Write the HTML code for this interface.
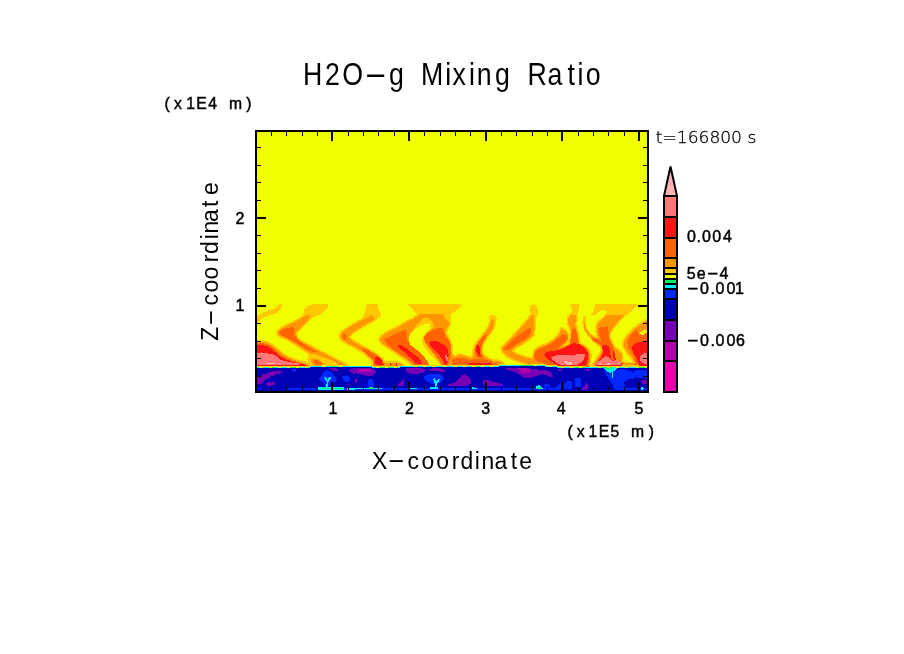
<!DOCTYPE html>
<html lang="en"><head><meta charset="utf-8"><title>H2O-g Mixing Ratio</title>
<style>
html,body{margin:0;padding:0;background:#fff;}
body{width:904px;height:654px;overflow:hidden;position:relative;}
svg{position:absolute;left:0;top:0;display:block;}
text{font-family:"DejaVu Sans Light","DejaVu Sans","Liberation Sans",sans-serif;fill:#000;}
.b{font-family:"Liberation Sans","DejaVu Sans",sans-serif;}
</style></head><body>
<svg width="904" height="654" viewBox="0 0 904 654">
<rect x="0" y="0" width="904" height="654" fill="#fff"/>

<defs><clipPath id="cp"><rect x="256" y="131" width="392" height="261"/></clipPath></defs>
<g clip-path="url(#cp)" shape-rendering="crispEdges">
<rect x="256" y="131" width="392" height="261" fill="#F0FF00"/>
<defs><clipPath id="bc"><polygon points="256.0,392.0 256.0,368.0 310.0,368.0 310.0,367.0 372.0,367.0 372.0,368.0 400.0,368.0 400.0,367.0 499.0,367.0 499.0,366.0 545.0,366.0 545.0,367.0 557.0,367.0 557.0,368.0 648.0,368.0 648.0,392.0" fill="#000"/></clipPath></defs>
<polygon points="257.0,316.3 261.6,313.2 268.2,310.5 274.8,308.3 278.7,304.4 282.0,304.2 281.4,307.7 278.7,311.0 277.6,313.2 271.5,314.9 266.0,316.5 261.6,318.7 258.3,321.5 257.0,322.0" fill="#FFC800"/>
<polygon points="307.8,305.5 313.3,304.2 328.2,304.2 328.5,307.7 324.3,311.0 321.0,314.3 314.4,317.1 310.0,319.3 305.6,318.7 302.3,316.5 303.4,313.2 304.5,308.8" fill="#FFC800"/>
<polygon points="308.8,354.9 314.8,355.4 319.7,357.4 324.7,359.4 330.7,361.9 334.7,363.9 334.7,366.9 310.8,366.9 308.8,363.9 307.3,359.4" fill="#FFC800"/>
<polygon points="365.6,304.2 377.9,304.2 378.5,309.4 381.0,313.8 380.1,317.1 375.7,320.9 371.3,322.0 362.5,317.6 364.7,312.1 366.4,307.7" fill="#FFC800"/>
<polygon points="408.2,304.2 460.7,304.2 460.7,307.7 455.7,311.0 451.3,314.3 450.8,322.0 448.0,328.6 442.5,322.0 431.5,315.4 418.6,314.9 415.3,313.2 412.0,308.8" fill="#FFC800"/>
<polygon points="488.7,316.5 490.9,314.3 494.8,314.9 496.6,318.2 496.4,322.0 494.2,323.1 492.0,318.2 490.4,322.0 488.7,319.8" fill="#FFC800"/>
<polygon points="530.2,306.6 533.0,304.2 536.8,305.5 538.5,311.0 537.4,315.4 535.2,322.0 533.5,314.9 531.3,315.4 530.0,311.0" fill="#FFC800"/>
<polygon points="570.4,304.2 579.7,304.2 579.2,309.9 577.0,314.9 576.4,320.4 574.8,314.3 570.9,314.3 572.0,309.9" fill="#FFC800"/>
<polygon points="559.9,337.4 566.5,336.3 572.0,337.4 572.0,346.2 565.4,348.4 561.0,347.3" fill="#FFC800"/>
<polygon points="594.8,304.1 638.5,304.1 633.2,309.6 627.8,314.5 607.5,314.5 606.9,311.6 602.1,309.9 598.4,312.3 595.2,315.0 591.4,314.5 594.1,310.2" fill="#FFC800"/>
<polygon points="582.3,323.3 583.9,329.9 587.2,335.4 591.6,339.3 596.0,342.0 600.4,345.3 604.8,344.2 600.4,339.8 594.9,336.5 590.0,332.7 586.7,327.7 585.6,322.2 586.5,316.2 582.8,316.2" fill="#FFC800"/>
<polygon points="647.6,328.1 643.3,328.7 639.1,331.0 636.6,334.3 639.6,337.7 644.9,337.3 647.6,336.2" fill="#FFC800"/>
<polygon points="442.0,366.8 439.2,361.6 434.3,355.0 429.9,349.5 426.0,344.0 423.8,338.5 426.0,333.6 430.4,330.3 433.9,326.4 432.6,322.0 428.2,317.8 424.7,317.4 417.0,321.5 411.5,327.5 407.3,333.0 408.4,339.6 415.0,346.2 418.3,348.4 422.7,352.8 427.1,358.3 430.4,363.8 431.5,366.8" fill="#FFC800"/>
<polygon points="257.0,317.6 258.3,318.7 257.8,320.9 257.0,321.5" fill="#FFC800" stroke="#FFC800" stroke-width="3.4" stroke-linejoin="round"/>
<polygon points="310.0,315.4 309.5,318.2 306.2,322.0 301.8,326.4 297.9,330.3 295.5,333.6 297.0,337.5 299.8,340.5 304.8,343.5 310.8,346.5 316.8,349.9 324.7,354.0 332.7,358.0 340.0,361.8 346.0,365.0 348.0,367.5 338.5,367.5 338.5,365.0 336.0,362.3 331.7,360.3 326.7,358.4 321.7,356.9 315.8,354.4 309.3,353.4 306.8,351.4 300.8,347.4 294.8,343.5 287.9,339.5 280.9,336.5 278.0,334.5 277.6,333.0 278.7,330.6 282.0,328.1 286.9,325.5 293.0,322.8 299.0,319.6 304.0,316.3 307.3,314.9" fill="#FFC800" stroke="#FFC800" stroke-width="3.4" stroke-linejoin="round"/>
<polygon points="310.8,358.9 314.8,358.4 319.7,360.4 323.7,363.4 324.7,366.9 313.8,366.9 311.8,362.9" fill="#FFC800" stroke="#FFC800" stroke-width="3.4" stroke-linejoin="round"/>
<polygon points="256.8,342.0 262.0,341.5 267.9,343.0 272.9,346.0 277.9,349.9 281.9,353.9 286.9,356.9 292.8,359.4 298.8,361.4 304.8,362.9 309.3,364.9 310.3,366.9 256.8,366.9" fill="#FFC800" stroke="#FFC800" stroke-width="3.4" stroke-linejoin="round"/>
<polygon points="371.3,314.3 374.6,318.5 372.4,320.9 366.9,323.7 361.4,327.0 355.9,330.3 351.5,333.6 348.8,336.9 351.5,340.2 357.0,343.5 363.6,347.3 370.2,350.8 376.8,354.8 382.3,359.4 384.5,363.3 385.6,366.8 372.4,366.8 373.5,363.8 372.4,360.0 368.0,356.1 362.5,351.7 357.0,348.4 351.5,345.1 346.0,342.4 341.6,339.6 340.0,336.3 341.6,332.5 346.0,329.2 351.5,325.9 357.0,322.6 362.5,319.8 368.0,317.1 370.8,314.9" fill="#FFC800" stroke="#FFC800" stroke-width="3.4" stroke-linejoin="round"/>
<polygon points="383.4,363.6 392.2,362.5 401.0,363.6 404.3,366.8 383.4,366.8" fill="#FFC800" stroke="#FFC800" stroke-width="3.4" stroke-linejoin="round"/>
<polygon points="427.4,313.8 420.3,314.3 414.2,318.2 406.5,322.0 399.9,325.9 392.2,329.7 385.6,333.6 380.7,337.4 380.1,340.2 382.3,343.5 387.8,347.3 394.4,351.7 401.0,356.1 407.6,360.5 412.0,364.4 413.7,366.8 431.5,366.8 430.4,363.8 427.1,358.3 422.7,352.8 418.3,348.4 415.0,346.2 411.5,344.0 408.5,339.6 410.4,333.6 414.8,327.5 418.6,322.6 423.0,318.7 427.4,316.5" fill="#FFC800" stroke="#FFC800" stroke-width="3.4" stroke-linejoin="round"/>
<polygon points="419.4,315.4 420.5,314.5 443.6,314.3 444.7,318.2 450.0,323.7 446.9,328.4 445.3,333.0 448.0,338.0 450.8,343.5 451.3,349.5 451.9,355.0 454.6,357.2 459.0,355.0 463.4,355.6 467.8,357.2 472.2,357.8 473.9,352.8 474.4,347.3 477.7,341.8 482.1,336.3 486.5,330.8 489.8,325.3 490.9,320.4 492.6,318.7 494.2,320.9 493.7,326.4 490.9,331.9 486.5,337.4 483.2,342.9 481.6,348.4 482.1,353.9 485.4,357.2 492.0,360.5 498.6,363.3 503.0,364.9 503.6,366.8 442.0,366.8 439.2,361.6 434.3,355.0 429.9,349.5 426.0,344.0 423.8,338.5 426.0,333.6 430.4,330.3 433.9,326.4 432.6,322.0 428.2,317.8 424.7,317.4 421.6,318.5" fill="#FFC800" stroke="#FFC800" stroke-width="3.4" stroke-linejoin="round"/>
<polygon points="531.9,314.9 534.1,315.4 534.4,322.0 534.1,328.6 533.0,335.2 528.0,339.6 521.4,344.0 514.8,347.9 511.5,351.2 517.0,354.5 524.7,357.2 532.4,358.9 539.0,361.6 539.0,366.8 533.5,366.8 528.0,363.8 520.3,361.6 513.7,359.4 507.1,356.1 502.7,351.7 501.6,347.9 506.0,343.5 511.5,338.0 517.0,331.9 522.5,325.9 528.0,319.8 530.8,316.0" fill="#FFC800" stroke="#FFC800" stroke-width="3.4" stroke-linejoin="round"/>
<polygon points="534.6,366.8 532.4,358.9 534.6,353.9 535.2,350.1 539.0,347.3 544.5,345.1 550.0,342.4 555.5,338.5 559.9,333.0 561.6,328.8 565.4,330.8 568.5,335.2 567.6,339.6 565.4,342.9 562.1,346.2 566.5,348.4 572.0,344.0 579.3,344.0 584.8,346.2 588.6,350.1 590.3,355.0 589.7,360.5 588.6,366.8" fill="#FFC800" stroke="#FFC800" stroke-width="3.4" stroke-linejoin="round"/>
<polygon points="568.2,318.2 570.9,314.9 575.9,314.9 576.4,319.8 575.3,323.7 576.4,328.6 578.1,335.2 579.2,344.0 570.9,345.1 572.0,336.3 570.9,329.7 568.2,323.1" fill="#FFC800" stroke="#FFC800" stroke-width="3.4" stroke-linejoin="round"/>
<polygon points="495.0,360.5 499.4,361.6 503.3,363.8 504.4,366.8 495.0,366.8" fill="#FFC800" stroke="#FFC800" stroke-width="3.4" stroke-linejoin="round"/>
<polygon points="594.5,337.0 600.0,339.8 604.4,344.2 606.4,348.2 603.2,348.7 600.4,345.8 596.0,342.5 593.0,339.8" fill="#FFC800" stroke="#FFC800" stroke-width="3.4" stroke-linejoin="round"/>
<polygon points="607.5,314.5 624.6,314.5 618.2,321.4 612.8,327.8 609.6,333.2 609.1,336.4 611.2,341.8 613.9,347.1 618.2,350.3 621.4,353.5 621.9,357.8 621.4,361.6 625.7,363.2 634.2,363.2 635.3,365.0 593.0,365.0 595.7,361.0 599.4,355.7 602.1,350.3 601.0,346.0 598.9,340.7 597.6,335.3 596.8,328.9 597.6,323.6 602.1,319.3" fill="#FFC800" stroke="#FFC800" stroke-width="3.4" stroke-linejoin="round"/>
<polygon points="647.6,320.3 639.6,324.6 633.2,330.0 627.8,335.3 624.1,340.7 623.5,346.0 626.7,351.4 631.0,356.7 634.2,361.0 635.3,365.0 647.6,365.0" fill="#FFC800" stroke="#FFC800" stroke-width="3.4" stroke-linejoin="round"/>
<polygon points="257.0,317.6 258.3,318.7 257.8,320.9 257.0,321.5" fill="#FF9600"/>
<polygon points="310.0,315.4 309.5,318.2 306.2,322.0 301.8,326.4 297.9,330.3 295.5,333.6 297.0,337.5 299.8,340.5 304.8,343.5 310.8,346.5 316.8,349.9 324.7,354.0 332.7,358.0 340.0,361.8 346.0,365.0 348.0,367.5 338.5,367.5 338.5,365.0 336.0,362.3 331.7,360.3 326.7,358.4 321.7,356.9 315.8,354.4 309.3,353.4 306.8,351.4 300.8,347.4 294.8,343.5 287.9,339.5 280.9,336.5 278.0,334.5 277.6,333.0 278.7,330.6 282.0,328.1 286.9,325.5 293.0,322.8 299.0,319.6 304.0,316.3 307.3,314.9" fill="#FF9600"/>
<polygon points="310.8,358.9 314.8,358.4 319.7,360.4 323.7,363.4 324.7,366.9 313.8,366.9 311.8,362.9" fill="#FF9600"/>
<polygon points="256.8,342.0 262.0,341.5 267.9,343.0 272.9,346.0 277.9,349.9 281.9,353.9 286.9,356.9 292.8,359.4 298.8,361.4 304.8,362.9 309.3,364.9 310.3,366.9 256.8,366.9" fill="#FF9600"/>
<polygon points="371.3,314.3 374.6,318.5 372.4,320.9 366.9,323.7 361.4,327.0 355.9,330.3 351.5,333.6 348.8,336.9 351.5,340.2 357.0,343.5 363.6,347.3 370.2,350.8 376.8,354.8 382.3,359.4 384.5,363.3 385.6,366.8 372.4,366.8 373.5,363.8 372.4,360.0 368.0,356.1 362.5,351.7 357.0,348.4 351.5,345.1 346.0,342.4 341.6,339.6 340.0,336.3 341.6,332.5 346.0,329.2 351.5,325.9 357.0,322.6 362.5,319.8 368.0,317.1 370.8,314.9" fill="#FF9600"/>
<polygon points="383.4,363.6 392.2,362.5 401.0,363.6 404.3,366.8 383.4,366.8" fill="#FF9600"/>
<polygon points="427.4,313.8 420.3,314.3 414.2,318.2 406.5,322.0 399.9,325.9 392.2,329.7 385.6,333.6 380.7,337.4 380.1,340.2 382.3,343.5 387.8,347.3 394.4,351.7 401.0,356.1 407.6,360.5 412.0,364.4 413.7,366.8 431.5,366.8 430.4,363.8 427.1,358.3 422.7,352.8 418.3,348.4 415.0,346.2 411.5,344.0 408.5,339.6 410.4,333.6 414.8,327.5 418.6,322.6 423.0,318.7 427.4,316.5" fill="#FF9600"/>
<polygon points="419.4,315.4 420.5,314.5 443.6,314.3 444.7,318.2 450.0,323.7 446.9,328.4 445.3,333.0 448.0,338.0 450.8,343.5 451.3,349.5 451.9,355.0 454.6,357.2 459.0,355.0 463.4,355.6 467.8,357.2 472.2,357.8 473.9,352.8 474.4,347.3 477.7,341.8 482.1,336.3 486.5,330.8 489.8,325.3 490.9,320.4 492.6,318.7 494.2,320.9 493.7,326.4 490.9,331.9 486.5,337.4 483.2,342.9 481.6,348.4 482.1,353.9 485.4,357.2 492.0,360.5 498.6,363.3 503.0,364.9 503.6,366.8 442.0,366.8 439.2,361.6 434.3,355.0 429.9,349.5 426.0,344.0 423.8,338.5 426.0,333.6 430.4,330.3 433.9,326.4 432.6,322.0 428.2,317.8 424.7,317.4 421.6,318.5" fill="#FF9600"/>
<polygon points="531.9,314.9 534.1,315.4 534.4,322.0 534.1,328.6 533.0,335.2 528.0,339.6 521.4,344.0 514.8,347.9 511.5,351.2 517.0,354.5 524.7,357.2 532.4,358.9 539.0,361.6 539.0,366.8 533.5,366.8 528.0,363.8 520.3,361.6 513.7,359.4 507.1,356.1 502.7,351.7 501.6,347.9 506.0,343.5 511.5,338.0 517.0,331.9 522.5,325.9 528.0,319.8 530.8,316.0" fill="#FF9600"/>
<polygon points="534.6,366.8 532.4,358.9 534.6,353.9 535.2,350.1 539.0,347.3 544.5,345.1 550.0,342.4 555.5,338.5 559.9,333.0 561.6,328.8 565.4,330.8 568.5,335.2 567.6,339.6 565.4,342.9 562.1,346.2 566.5,348.4 572.0,344.0 579.3,344.0 584.8,346.2 588.6,350.1 590.3,355.0 589.7,360.5 588.6,366.8" fill="#FF9600"/>
<polygon points="568.2,318.2 570.9,314.9 575.9,314.9 576.4,319.8 575.3,323.7 576.4,328.6 578.1,335.2 579.2,344.0 570.9,345.1 572.0,336.3 570.9,329.7 568.2,323.1" fill="#FF9600"/>
<polygon points="495.0,360.5 499.4,361.6 503.3,363.8 504.4,366.8 495.0,366.8" fill="#FF9600"/>
<polygon points="594.5,337.0 600.0,339.8 604.4,344.2 606.4,348.2 603.2,348.7 600.4,345.8 596.0,342.5 593.0,339.8" fill="#FF9600"/>
<polygon points="607.5,314.5 624.6,314.5 618.2,321.4 612.8,327.8 609.6,333.2 609.1,336.4 611.2,341.8 613.9,347.1 618.2,350.3 621.4,353.5 621.9,357.8 621.4,361.6 625.7,363.2 634.2,363.2 635.3,365.0 593.0,365.0 595.7,361.0 599.4,355.7 602.1,350.3 601.0,346.0 598.9,340.7 597.6,335.3 596.8,328.9 597.6,323.6 602.1,319.3" fill="#FF9600"/>
<polygon points="647.6,320.3 639.6,324.6 633.2,330.0 627.8,335.3 624.1,340.7 623.5,346.0 626.7,351.4 631.0,356.7 634.2,361.0 635.3,365.0 647.6,365.0" fill="#FF9600"/>
<polygon points="583.3,323.0 584.6,329.0 587.9,334.5 592.6,338.5 597.7,341.5 598.7,340.3 593.8,337.3 589.3,333.5 586.0,328.6 584.7,322.8" fill="#FF9600"/>
<polygon points="647.6,329.6 643.9,330.2 640.1,332.3 638.5,334.3 640.9,336.2 644.9,335.8 647.6,334.7" fill="#F0FF00"/>
<polygon points="421.4,325.3 426.9,323.3 430.2,324.8 429.6,328.6 425.8,333.0 422.5,337.4 421.9,341.8 423.6,346.2 428.0,351.7 432.4,357.2 437.9,362.7 442.3,366.8 431.3,366.8 428.0,362.7 422.5,357.2 415.9,350.6 410.4,345.1 408.7,339.6 409.8,335.2 413.7,330.8 418.1,327.5" fill="#F0FF00"/>
<polygon points="279.0,333.0 281.4,330.3 286.9,328.1 293.0,327.0 294.4,330.3 294.1,334.1 297.0,339.0 301.0,342.0 306.0,345.5 311.0,348.5 316.0,351.0 317.5,352.5 313.0,352.0 308.0,350.0 303.0,347.0 297.0,343.5 291.0,340.0 285.0,337.0 281.0,335.0" fill="#FF6400"/>
<polygon points="313.3,360.4 316.8,359.9 320.7,362.4 322.7,364.9 318.7,365.4 314.8,363.9" fill="#FF6400"/>
<polygon points="256.8,343.5 262.0,343.0 267.5,344.5 272.4,347.5 276.9,351.4 280.9,354.9 285.9,357.9 291.9,360.4 297.8,362.1 303.8,363.7 307.8,365.4 308.8,366.9 256.8,366.9" fill="#FF6400"/>
<polygon points="343.6,334.1 346.0,333.9 346.0,339.6 343.6,339.8 342.9,336.9" fill="#FF6400"/>
<polygon points="360.9,347.9 366.9,349.5 373.5,353.4 379.0,356.7 382.9,360.5 384.5,366.8 373.0,366.8 374.1,362.7 372.4,359.4 368.0,355.6 363.1,351.2" fill="#FF6400"/>
<polygon points="384.0,339.6 392.2,335.2 401.0,331.4 405.4,329.9 407.1,335.2 407.6,340.7 410.9,345.1 415.0,348.4 419.4,351.7 423.8,356.1 427.6,361.6 429.3,366.8 416.4,366.8 412.0,362.7 406.5,358.3 399.9,353.9 393.3,349.5 387.8,345.1" fill="#FF6400"/>
<polygon points="423.8,337.4 427.1,333.0 432.6,330.3 438.7,327.5 442.0,327.5 444.2,331.9 445.3,336.3 449.1,340.7 450.8,346.2 450.8,352.8 449.7,359.4 448.0,364.9 446.9,366.8 443.1,366.8 440.9,361.6 437.0,357.2 432.6,351.7 428.2,346.2 424.9,341.8" fill="#FF6400"/>
<polygon points="486.7,335.4 486.0,338.0 482.7,343.5 481.0,348.4 481.0,353.9 483.8,357.2 481.0,358.3 476.6,357.2 475.0,352.8 475.3,347.9 478.3,342.4 482.3,337.4 484.5,335.0" fill="#FF6400"/>
<polygon points="452.4,359.4 456.8,358.3 463.4,358.3 470.0,360.0 476.6,358.9 483.2,358.9 489.8,361.1 496.4,363.8 501.9,366.0 501.9,366.8 451.3,366.8" fill="#FF6400"/>
<polygon points="504.9,347.3 509.3,342.9 514.8,338.0 521.4,333.0 526.9,329.2 530.8,328.1 531.3,331.9 529.1,336.3 523.6,340.2 517.0,344.0 511.5,348.4 507.1,350.6 504.4,349.5" fill="#FF6400"/>
<polygon points="534.6,351.7 539.0,349.0 544.5,346.8 550.0,344.0 555.5,340.2 559.9,336.3 563.2,334.3 567.1,335.2 567.6,338.5 565.4,341.8 559.9,346.2 556.6,349.5 561.0,348.4 569.8,344.0 570.9,336.3 572.0,329.7 575.3,328.1 577.3,335.2 578.1,342.9 584.1,346.8 587.7,350.6 589.2,355.0 588.7,360.5 587.6,366.8 556.6,366.8 547.8,364.9 541.2,362.7 535.7,360.5 534.1,356.1" fill="#FF6400"/>
<polygon points="495.0,363.3 499.4,363.8 501.6,366.8 495.0,366.8" fill="#FF6400"/>
<polygon points="590.3,337.7 594.6,338.0 598.9,339.8 602.1,342.3 604.3,346.0 601.6,346.0 597.8,343.4 593.6,341.2" fill="#FF6400"/>
<polygon points="598.4,327.8 608.0,326.2 608.5,332.1 609.1,337.5 611.2,342.8 613.4,348.2 614.4,353.5 615.5,360.0 616.0,365.0 594.6,365.0 597.3,361.0 600.5,356.7 602.7,351.4 602.1,346.0 601.0,339.6 598.9,334.3" fill="#FF6400"/>
<polygon points="647.6,332.1 642.8,335.3 638.5,333.2 636.4,328.9 633.2,332.1 628.9,337.5 627.3,342.8 628.4,348.2 632.1,353.5 634.2,357.8 635.3,365.0 647.6,365.0" fill="#FF6400"/>
<polygon points="256.8,345.5 262.0,345.0 267.0,346.2 271.4,348.9 275.4,352.4 279.4,355.9 284.4,358.9 290.4,361.1 296.8,362.9 302.8,364.1 306.3,365.4 306.8,366.9 256.8,366.9" fill="#FF1414"/>
<polygon points="375.2,357.2 379.0,357.2 381.8,360.5 382.9,364.9 375.2,364.4 374.6,360.5" fill="#FF1414"/>
<polygon points="389.5,362.7 391.1,362.7 391.1,367.1 389.5,367.1" fill="#FF1414"/>
<polygon points="395.5,362.7 397.2,362.7 397.2,367.1 395.5,367.1" fill="#FF1414"/>
<polygon points="398.3,345.1 401.0,344.6 406.5,348.4 412.0,352.8 417.5,356.7 421.0,360.5 422.1,363.8 419.4,364.4 415.0,362.7 412.0,358.9 406.5,353.9 401.0,349.5 398.3,346.8" fill="#FF1414"/>
<polygon points="429.3,342.4 432.6,340.7 437.0,340.9 441.4,343.5 445.8,346.2 448.0,349.5 448.6,355.0 448.0,360.5 446.4,364.9 444.2,364.4 442.5,359.4 439.2,355.0 434.8,350.6 431.0,346.8" fill="#FF1414"/>
<polygon points="476.4,345.7 478.8,344.6 479.9,348.4 479.9,352.8 481.0,356.1 478.8,356.3 476.6,352.8 476.1,349.0" fill="#FF1414"/>
<polygon points="467.8,362.9 476.6,362.5 485.4,362.9 490.9,363.3 492.0,364.9 485.4,366.0 476.6,366.0 468.9,365.8" fill="#FF1414"/>
<polygon points="544.0,354.5 546.7,351.7 552.2,351.2 557.7,350.1 563.2,348.4 569.8,345.1 574.2,343.1 579.3,344.0 583.7,347.3 587.5,351.7 588.6,357.2 587.0,361.6 585.9,367.3 560.5,367.3 556.6,364.9 551.1,361.6 546.7,358.3" fill="#FF1414"/>
<polygon points="601.6,346.0 605.3,345.0 609.1,346.0 609.8,350.3 610.7,355.7 611.8,360.0 617.1,361.2 621.4,363.0 622.0,365.5 594.6,365.5 596.8,363.2 598.9,360.0 602.1,355.7 603.2,351.4" fill="#FF1414"/>
<polygon points="613.4,350.3 615.0,353.5 615.8,360.0 613.9,360.0 612.8,354.6" fill="#FF1414"/>
<polygon points="647.6,341.8 639.6,342.3 635.3,342.8 631.6,347.1 633.2,352.5 636.4,357.8 638.5,363.2 639.1,365.5 647.6,365.5" fill="#FF1414"/>
<polygon points="256.8,353.4 261.0,352.4 267.0,353.4 272.9,354.4 277.4,356.9 280.9,359.9 286.9,361.4 293.8,362.9 299.8,363.4 301.3,364.1 298.8,364.6 256.8,364.6" fill="#FF7878"/>
<polygon points="444.7,354.5 446.4,354.5 447.5,357.2 447.8,360.5 446.4,360.5 445.3,357.8" fill="#FF7878"/>
<polygon points="550.6,357.2 554.4,356.1 557.7,354.5 563.2,355.0 572.0,355.6 576.4,354.5 580.4,353.9 585.3,354.5 583.7,359.4 580.4,362.7 577.5,364.9 561.0,364.9 557.7,363.6 553.3,360.5" fill="#FF7878"/>
<polygon points="595.2,364.8 598.9,361.0 603.2,357.8 606.4,355.7 609.6,358.4 612.8,361.0 617.1,360.0 620.3,361.6 621.4,364.8" fill="#FF7878"/>
<polygon points="647.6,353.0 642.8,353.5 639.6,356.7 640.7,362.1 644.9,364.2 647.6,364.2" fill="#FF7878"/>
<polygon points="267.0,363.2 274.9,363.2 274.9,364.1 267.0,364.1" fill="#FFB4B4"/>
<polygon points="278.9,363.2 280.1,363.2 280.1,364.1 278.9,364.1" fill="#FFB4B4"/>
<polygon points="564.3,361.1 566.0,360.5 567.6,362.2 570.9,362.2 572.0,363.3 570.9,364.7 569.8,364.9 566.5,364.9 565.4,363.8" fill="#FFB4B4"/>
<polygon points="598.9,364.0 600.5,363.4 601.6,364.8 599.4,365.0" fill="#FFB4B4"/>
<polygon points="605.3,364.2 609.6,363.2 611.8,364.8 605.9,365.0" fill="#FFB4B4"/>
<polygon points="618.2,363.4 620.1,362.6 620.3,364.2 618.7,364.8" fill="#FFB4B4"/>
<polygon points="566.1,362.2 571.6,362.2 571.6,364.9 566.1,364.9" fill="#FFB4B4"/>
<g clip-path="url(#bc)">
<polygon points="256.0,392.0 256.0,368.0 310.0,368.0 310.0,367.0 372.0,367.0 372.0,368.0 400.0,368.0 400.0,367.0 499.0,367.0 499.0,366.0 545.0,366.0 545.0,367.0 557.0,367.0 557.0,368.0 648.0,368.0 648.0,392.0" fill="#0000B4"/>
<polygon points="257.2,376.9 261.6,375.3 268.3,372.5 274.9,370.8 281.5,370.8 282.1,373.1 277.1,374.2 271.6,376.4 266.1,379.7 262.7,383.0 260.5,384.7 257.2,383.6" fill="#7800B4"/>
<polygon points="265.5,383.0 270.5,381.9 274.4,381.4 275.5,384.1 271.6,385.8 267.2,385.8 265.5,384.7" fill="#7800B4"/>
<polygon points="328.0,368.1 334.6,368.1 339.1,369.7 336.9,371.4 332.4,370.3" fill="#7800B4"/>
<polygon points="347.9,369.7 355.0,368.1 355.0,374.2 351.2,373.1" fill="#7800B4"/>
<polygon points="355.0,368.6 361.6,368.1 369.4,368.1 374.9,369.7 376.0,372.5 373.8,375.3 368.3,376.4 361.6,374.7 355.0,373.1" fill="#7800B4"/>
<polygon points="405.3,368.6 412.5,367.5 421.4,368.1 425.8,369.7 423.6,372.5 416.9,374.2 410.3,373.6 405.9,371.4" fill="#7800B4"/>
<polygon points="428.0,369.2 434.6,368.1 442.4,368.6 446.8,371.4 443.5,372.5 436.9,370.8 431.3,371.4" fill="#7800B4"/>
<polygon points="397.0,385.8 401.5,380.8 403.7,379.1 404.2,385.8" fill="#7800B4"/>
<polygon points="447.9,384.7 452.3,383.0 455.0,382.8 455.0,385.8 447.9,385.8" fill="#7800B4"/>
<polygon points="355.0,378.6 357.2,379.7 356.7,383.0 355.0,383.0" fill="#7800B4"/>
<polygon points="455.0,383.0 458.3,379.7 461.6,375.3 465.0,374.2 469.4,377.5 471.6,380.8 470.5,384.1 466.1,385.8 459.4,386.3 455.0,385.8" fill="#7800B4"/>
<polygon points="482.7,379.7 488.2,380.3 494.8,381.9 501.5,384.1 503.7,385.8 483.8,385.8" fill="#7800B4"/>
<polygon points="504.8,368.1 516.9,367.5 525.8,367.5 532.4,369.2 541.3,369.7 549.0,370.8 552.3,374.2 553.5,377.5 549.0,376.4 543.5,374.2 539.1,375.3 532.4,377.5 525.8,378.6 520.3,375.3 514.7,372.0 508.1,370.3" fill="#7800B4"/>
<polygon points="581.5,389.9 584.9,385.2 587.1,380.8 588.2,389.9" fill="#7800B4"/>
<polygon points="584.9,368.6 590.4,368.6 590.4,370.8 584.9,370.8" fill="#7800B4"/>
<polygon points="558.3,368.9 561.6,368.9 561.6,370.8 558.3,370.8" fill="#7800B4"/>
<polygon points="640.2,380.8 646.8,379.7 646.8,384.1 642.4,383.6" fill="#7800B4"/>
<polygon points="358.3,369.2 365.0,368.6 371.6,369.5 370.5,371.7 363.8,372.2 358.3,371.4" fill="#B400AA"/>
<polygon points="517.5,368.4 525.8,368.1 531.3,370.3 530.2,373.1 523.6,373.1 519.2,370.8" fill="#B400AA"/>
<polygon points="257.2,388.0 262.2,388.0 262.2,389.1 257.2,389.1" fill="#0028FF"/>
<polygon points="287.1,387.9 316.9,387.7 355.0,387.7 355.0,389.9 287.1,389.9" fill="#0028FF"/>
<polygon points="321.4,376.4 323.6,372.0 326.9,369.7 331.3,372.0 334.6,376.4 336.9,378.6 334.6,381.9 331.3,384.1 328.0,387.4 325.8,387.4 323.6,383.0 320.3,380.8 318.6,378.6" fill="#0028FF"/>
<polygon points="342.4,376.4 346.8,375.3 350.1,377.5 349.6,381.4 345.7,382.5 342.9,379.7" fill="#0028FF"/>
<polygon points="290.4,368.9 297.0,368.9 293.7,372.5" fill="#0028FF"/>
<polygon points="424.1,376.4 428.0,374.2 434.6,373.6 441.3,374.7 444.0,377.5 442.4,381.4 438.0,384.1 432.4,384.1 426.9,381.4 424.1,378.6" fill="#0028FF"/>
<polygon points="355.0,387.7 455.0,387.7 455.0,389.9 355.0,389.9" fill="#0028FF"/>
<polygon points="368.3,379.7 373.3,378.6 373.8,387.4 368.3,387.4" fill="#0028FF"/>
<polygon points="455.0,387.8 555.0,387.8 555.0,389.9 455.0,389.9" fill="#0028FF"/>
<polygon points="543.5,384.1 550.1,384.7 550.1,388.5 543.5,388.5" fill="#0028FF"/>
<polygon points="603.7,369.7 608.1,373.1 612.5,372.0 616.9,369.7 623.6,369.2 630.2,370.8 634.6,373.1 636.9,376.4 632.4,378.6 626.9,379.7 623.6,383.0 625.8,387.4 632.4,389.9 614.7,389.9 612.5,384.1 609.2,379.7 605.9,375.3" fill="#0028FF"/>
<polygon points="555.0,389.9 555.0,387.4 561.1,383.0 561.6,389.9" fill="#0028FF"/>
<polygon points="563.8,384.1 568.3,380.8 572.7,381.9 571.6,388.5 563.8,388.5" fill="#0028FF"/>
<polygon points="574.9,378.6 580.4,377.5 581.5,387.4 575.5,386.9" fill="#0028FF"/>
<polygon points="625.8,388.5 639.1,387.4 646.8,388.0 646.8,389.9 625.8,389.9" fill="#0028FF"/>
<polygon points="632.4,370.8 646.8,369.7 646.8,378.6 636.9,377.5" fill="#0028FF"/>
<polygon points="318.1,387.4 343.5,387.4 343.5,389.7 318.1,389.7" fill="#00F0FF"/>
<polygon points="346.8,387.7 355.0,387.7 355.0,389.7 346.8,389.7" fill="#00F0FF"/>
<polygon points="326.3,388.0 326.7,381.4 323.8,376.9 325.2,376.2 327.5,379.7 330.0,376.6 331.3,377.5 328.5,381.7 328.2,388.0" fill="#00F0FF"/>
<polygon points="355.0,387.9 381.5,387.9 381.5,389.2 355.0,389.2" fill="#00F0FF"/>
<polygon points="410.3,388.0 416.9,388.0 416.9,389.1 410.3,389.1" fill="#00F0FF"/>
<polygon points="430.2,387.4 438.0,387.4 438.0,388.5 430.2,388.5" fill="#00F0FF"/>
<polygon points="434.9,388.0 434.9,383.6 433.0,378.6 434.6,378.4 436.3,381.4 438.5,378.6 440.0,379.7 436.9,383.6 436.0,388.0" fill="#00F0FF"/>
<polygon points="471.6,387.4 477.1,387.7 477.7,389.1 471.6,389.1" fill="#00F0FF"/>
<polygon points="535.8,386.9 539.1,384.7 542.4,388.0 543.5,389.1 535.8,389.1" fill="#00F0FF"/>
<polygon points="603.7,368.1 616.9,368.1 614.7,370.8 610.3,373.1 607.0,371.4" fill="#00F0FF"/>
<polygon points="612.0,370.8 613.1,370.8 613.1,377.5 612.0,377.5" fill="#00F0FF"/>
<polygon points="641.3,386.9 644.6,388.0 642.4,390.2 640.7,390.2" fill="#00F0FF"/>
<polygon points="321.4,388.3 343.5,388.3 343.5,389.1 321.4,389.1" fill="#00F064"/>
<polygon points="326.7,383.6 328.0,383.6 328.0,388.5 326.7,388.5" fill="#00F064"/>
<polygon points="369.4,386.9 372.7,386.9 372.7,388.5 369.4,388.5" fill="#00F064"/>
<polygon points="536.9,387.7 540.7,387.4 540.7,388.8 536.9,388.8" fill="#00F064"/>
<polygon points="604.8,368.1 610.3,368.1 609.2,369.7 605.9,369.5" fill="#00F064"/>
</g>
<rect x="256" y="366" width="54" height="1" fill="#FFDC00"/>
<rect x="256" y="367" width="54" height="1" fill="#00F0FF"/>
<rect x="268" y="367" width="7" height="1" fill="#00F064"/>
<rect x="290" y="367" width="10" height="1" fill="#00F064"/>
<rect x="260" y="367" width="3" height="1" fill="#F0FF00"/>
<rect x="269" y="367" width="3" height="1" fill="#F0FF00"/>
<rect x="278" y="367" width="3" height="1" fill="#F0FF00"/>
<rect x="287" y="367" width="3" height="1" fill="#F0FF00"/>
<rect x="296" y="367" width="3" height="1" fill="#F0FF00"/>
<rect x="305" y="367" width="3" height="1" fill="#F0FF00"/>
<rect x="310" y="365" width="2" height="1" fill="#FFDC00"/>
<rect x="318" y="365" width="9" height="1" fill="#FFDC00"/>
<rect x="335" y="365" width="10" height="1" fill="#FFDC00"/>
<rect x="310" y="366" width="62" height="1" fill="#00F0FF"/>
<rect x="330" y="366" width="8" height="1" fill="#00F064"/>
<rect x="322" y="366" width="3" height="1" fill="#F0FF00"/>
<rect x="339" y="366" width="3" height="1" fill="#F0FF00"/>
<rect x="372" y="366" width="28" height="1" fill="#FFDC00"/>
<rect x="372" y="367" width="28" height="1" fill="#00F0FF"/>
<rect x="380" y="367" width="12" height="1" fill="#00F064"/>
<rect x="376" y="367" width="3" height="1" fill="#F0FF00"/>
<rect x="385" y="367" width="3" height="1" fill="#F0FF00"/>
<rect x="394" y="367" width="3" height="1" fill="#F0FF00"/>
<rect x="410" y="365" width="27" height="1" fill="#FFDC00"/>
<rect x="439" y="365" width="9" height="1" fill="#FFDC00"/>
<rect x="450" y="365" width="49" height="1" fill="#FFDC00"/>
<rect x="400" y="366" width="99" height="1" fill="#00F0FF"/>
<rect x="470" y="366" width="10" height="1" fill="#00F064"/>
<rect x="414" y="366" width="3" height="1" fill="#F0FF00"/>
<rect x="423" y="366" width="3" height="1" fill="#F0FF00"/>
<rect x="432" y="366" width="3" height="1" fill="#F0FF00"/>
<rect x="443" y="366" width="3" height="1" fill="#F0FF00"/>
<rect x="454" y="366" width="3" height="1" fill="#F0FF00"/>
<rect x="463" y="366" width="3" height="1" fill="#F0FF00"/>
<rect x="472" y="366" width="3" height="1" fill="#F0FF00"/>
<rect x="481" y="366" width="3" height="1" fill="#F0FF00"/>
<rect x="490" y="366" width="3" height="1" fill="#F0FF00"/>
<rect x="499" y="364" width="5" height="1" fill="#FFDC00"/>
<rect x="530" y="364" width="15" height="1" fill="#FFDC00"/>
<rect x="499" y="365" width="46" height="1" fill="#00F0FF"/>
<rect x="520" y="365" width="14" height="1" fill="#00F064"/>
<rect x="534" y="365" width="3" height="1" fill="#F0FF00"/>
<rect x="545" y="365" width="12" height="1" fill="#FFDC00"/>
<rect x="545" y="366" width="12" height="1" fill="#00F0FF"/>
<rect x="549" y="366" width="3" height="1" fill="#F0FF00"/>
<rect x="557" y="366" width="29" height="1" fill="#FFDC00"/>
<rect x="594" y="366" width="35" height="1" fill="#FFDC00"/>
<rect x="632" y="366" width="16" height="1" fill="#FFDC00"/>
<rect x="557" y="367" width="91" height="1" fill="#00F0FF"/>
<rect x="575" y="367" width="10" height="1" fill="#00F064"/>
<rect x="603" y="367" width="9" height="1" fill="#00F064"/>
<rect x="636" y="367" width="10" height="1" fill="#00F064"/>
<rect x="561" y="367" width="3" height="1" fill="#F0FF00"/>
<rect x="570" y="367" width="3" height="1" fill="#F0FF00"/>
<rect x="579" y="367" width="3" height="1" fill="#F0FF00"/>
<rect x="598" y="367" width="3" height="1" fill="#F0FF00"/>
<rect x="607" y="367" width="3" height="1" fill="#F0FF00"/>
<rect x="616" y="367" width="3" height="1" fill="#F0FF00"/>
<rect x="625" y="367" width="3" height="1" fill="#F0FF00"/>
<rect x="636" y="367" width="3" height="1" fill="#F0FF00"/>
<rect x="645" y="367" width="3" height="1" fill="#F0FF00"/>
</g>
<g shape-rendering="crispEdges" fill="#000">
<rect x="255" y="130" width="394" height="2"/><rect x="255" y="391" width="394" height="2"/>
<rect x="255" y="130" width="2" height="263"/><rect x="647" y="130" width="2" height="263"/>
<rect x="271" y="387" width="1" height="4"/><rect x="271" y="132" width="1" height="4"/>
<rect x="286" y="387" width="1" height="4"/><rect x="286" y="132" width="1" height="4"/>
<rect x="302" y="387" width="1" height="4"/><rect x="302" y="132" width="1" height="4"/>
<rect x="317" y="387" width="1" height="4"/><rect x="317" y="132" width="1" height="4"/>
<rect x="331" y="382" width="2" height="9"/><rect x="331" y="132" width="2" height="9"/>
<rect x="348" y="387" width="1" height="4"/><rect x="348" y="132" width="1" height="4"/>
<rect x="363" y="387" width="1" height="4"/><rect x="363" y="132" width="1" height="4"/>
<rect x="378" y="387" width="1" height="4"/><rect x="378" y="132" width="1" height="4"/>
<rect x="394" y="387" width="1" height="4"/><rect x="394" y="132" width="1" height="4"/>
<rect x="408" y="382" width="2" height="9"/><rect x="408" y="132" width="2" height="9"/>
<rect x="424" y="387" width="1" height="4"/><rect x="424" y="132" width="1" height="4"/>
<rect x="440" y="387" width="1" height="4"/><rect x="440" y="132" width="1" height="4"/>
<rect x="455" y="387" width="1" height="4"/><rect x="455" y="132" width="1" height="4"/>
<rect x="470" y="387" width="1" height="4"/><rect x="470" y="132" width="1" height="4"/>
<rect x="485" y="382" width="2" height="9"/><rect x="485" y="132" width="2" height="9"/>
<rect x="501" y="387" width="1" height="4"/><rect x="501" y="132" width="1" height="4"/>
<rect x="516" y="387" width="1" height="4"/><rect x="516" y="132" width="1" height="4"/>
<rect x="532" y="387" width="1" height="4"/><rect x="532" y="132" width="1" height="4"/>
<rect x="547" y="387" width="1" height="4"/><rect x="547" y="132" width="1" height="4"/>
<rect x="561" y="382" width="2" height="9"/><rect x="561" y="132" width="2" height="9"/>
<rect x="578" y="387" width="1" height="4"/><rect x="578" y="132" width="1" height="4"/>
<rect x="593" y="387" width="1" height="4"/><rect x="593" y="132" width="1" height="4"/>
<rect x="608" y="387" width="1" height="4"/><rect x="608" y="132" width="1" height="4"/>
<rect x="624" y="387" width="1" height="4"/><rect x="624" y="132" width="1" height="4"/>
<rect x="638" y="382" width="2" height="9"/><rect x="638" y="132" width="2" height="9"/>
<rect x="257" y="376" width="4" height="1"/><rect x="643" y="376" width="4" height="1"/>
<rect x="257" y="358" width="4" height="1"/><rect x="643" y="358" width="4" height="1"/>
<rect x="257" y="341" width="4" height="1"/><rect x="643" y="341" width="4" height="1"/>
<rect x="257" y="323" width="4" height="1"/><rect x="643" y="323" width="4" height="1"/>
<rect x="257" y="305" width="9" height="2"/><rect x="638" y="305" width="9" height="2"/>
<rect x="257" y="288" width="4" height="1"/><rect x="643" y="288" width="4" height="1"/>
<rect x="257" y="270" width="4" height="1"/><rect x="643" y="270" width="4" height="1"/>
<rect x="257" y="253" width="4" height="1"/><rect x="643" y="253" width="4" height="1"/>
<rect x="257" y="235" width="4" height="1"/><rect x="643" y="235" width="4" height="1"/>
<rect x="257" y="217" width="9" height="2"/><rect x="638" y="217" width="9" height="2"/>
<rect x="257" y="200" width="4" height="1"/><rect x="643" y="200" width="4" height="1"/>
<rect x="257" y="182" width="4" height="1"/><rect x="643" y="182" width="4" height="1"/>
<rect x="257" y="165" width="4" height="1"/><rect x="643" y="165" width="4" height="1"/>
<rect x="257" y="147" width="4" height="1"/><rect x="643" y="147" width="4" height="1"/>
</g>
<g shape-rendering="crispEdges">
<rect x="663" y="195" width="15" height="198" fill="#000"/>
<rect x="665" y="197" width="11" height="19" fill="#FF7878"/>
<rect x="665" y="218" width="11" height="19" fill="#FF1414"/>
<rect x="665" y="239" width="11" height="18" fill="#FF6400"/>
<rect x="665" y="259" width="11" height="8" fill="#FF9600"/>
<rect x="665" y="269" width="11" height="4" fill="#FFC800"/>
<rect x="665" y="275" width="11" height="3" fill="#F0FF00"/>
<rect x="665" y="280" width="11" height="3" fill="#00F064"/>
<rect x="665" y="285" width="11" height="3" fill="#00F0FF"/>
<rect x="665" y="290" width="11" height="8" fill="#0028FF"/>
<rect x="665" y="300" width="11" height="19" fill="#0000B4"/>
<rect x="665" y="321" width="11" height="19" fill="#7800B4"/>
<rect x="665" y="342" width="11" height="18" fill="#B400AA"/>
<rect x="665" y="362" width="11" height="29" fill="#EB00AA"/>
</g>
<polygon points="664,196 670.5,166.5 677,196" fill="#FFB4B4" stroke="#000" stroke-width="2" stroke-linejoin="miter"/>
<text class="b" font-size="30.7" transform="scale(0.87,1)" x="348.2 373.7 393.3 418.4 447.0 464.1 484.0 511.7 520.1 539.1 548.1 568.9 586.0 606.4 629.4 652.2 663.7 673.2" y="85.3 85.3 85.3 83.6 85.3 85.3 85.3 85.3 85.3 85.3 85.3 85.3 85.3 85.3 85.3 85.3 85.3 85.3">H2O<tspan textLength="26.9" lengthAdjust="spacingAndGlyphs">-</tspan>g Mixing Ratio</text>
<text class="b" font-size="15.7" transform="scale(1,1)" x="164.5 173.9 186.2 196.3 208.3 217.1 229.1 246.3" y="108.5 108.5 108.5 108.5 108.5 108.5 108.5 108.5" stroke="#000" stroke-width="0.45">(x1E4 m)</text>
<text x="240" y="223.7" font-size="16" text-anchor="middle" class="b" stroke="#000" stroke-width="0.45">2</text>
<text x="240" y="311.2" font-size="16" text-anchor="middle" class="b" stroke="#000" stroke-width="0.45">1</text>
<text x="333" y="413.7" font-size="16" text-anchor="middle" class="b" stroke="#000" stroke-width="0.45">1</text>
<text x="409.5" y="413.7" font-size="16" text-anchor="middle" class="b" stroke="#000" stroke-width="0.45">2</text>
<text x="485.6" y="413.7" font-size="16" text-anchor="middle" class="b" stroke="#000" stroke-width="0.45">3</text>
<text x="561.2" y="413.7" font-size="16" text-anchor="middle" class="b" stroke="#000" stroke-width="0.45">4</text>
<text x="639" y="413.7" font-size="16" text-anchor="middle" class="b" stroke="#000" stroke-width="0.45">5</text>
<text class="b" font-size="15.7" transform="scale(1,1)" x="567.6 576.8 588.5 598.8 610.6 619.3 631.0 648.8" y="437.1 437.1 437.1 437.1 437.1 437.1 437.1 437.1" stroke="#000" stroke-width="0.45">(x1E5 m)</text>
<text class="b" font-size="24.4" transform="scale(0.94,1)" x="395.7 411.9 433.4 448.3 464.0 480.6 489.9 505.1 512.2 526.1 543.3 552.5" y="468.8 467.5 468.8 468.8 468.8 468.8 468.8 468.8 468.8 468.8 468.8 468.8">X<tspan textLength="19.1" lengthAdjust="spacingAndGlyphs">-</tspan>coordinate</text>
<text class="b" font-size="24.4" transform="translate(218,339.6) rotate(-90) scale(0.94,1)" x="-1.3 14.6 36.3 50.1 64.0 82.4 91.1 106.8 113.0 125.2 141.2 153.8" y="0.0 -1.3 0.0 0.0 0.0 0.0 0.0 0.0 0.0 0.0 0.0 0.0">Z<tspan textLength="17.9" lengthAdjust="spacingAndGlyphs">-</tspan>coordinate</text>
<text x="655.8" y="142.7" font-size="16" textLength="100.5" lengthAdjust="spacingAndGlyphs" stroke="#000" stroke-width="0.3">t=166800 s</text>
<text class="b" font-size="16" transform="scale(1,1)" x="687.0 696.5 702.1 712.2 722.9" y="242.4 242.4 242.4 242.4 242.4" stroke="#000" stroke-width="0.45">0.004</text>
<text class="b" font-size="16" transform="scale(1,1)" x="686.8 696.7 707.0 719.5" y="278.6 278.6 277.7 278.6" stroke="#000" stroke-width="0.45">5e<tspan textLength="11.6" lengthAdjust="spacingAndGlyphs">-</tspan>4</text>
<text class="b" font-size="16" transform="scale(1,1)" x="686.9 700.0 710.5 715.6 726.4 735.0" y="293.4 294.3 294.3 294.3 294.3 294.3" stroke="#000" stroke-width="0.45"><tspan textLength="11.7" lengthAdjust="spacingAndGlyphs">-</tspan>0.001</text>
<text class="b" font-size="16" transform="scale(1,1)" x="686.9 700.0 710.5 715.6 726.4 736.1" y="345.0 345.9 345.9 345.9 345.9 345.9" stroke="#000" stroke-width="0.45"><tspan textLength="11.7" lengthAdjust="spacingAndGlyphs">-</tspan>0.006</text>
</svg></body></html>
